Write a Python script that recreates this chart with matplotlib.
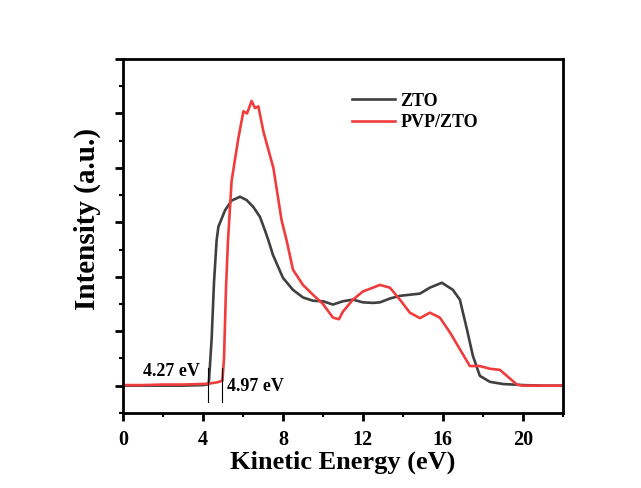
import numpy as np
import matplotlib.pyplot as plt
from matplotlib.ticker import MultipleLocator

plt.rcParams['font.family'] = ['Liberation Serif', 'DejaVu Serif']
plt.rcParams['font.weight'] = 'bold'

# ZTO curve
zto_e = [0, 1, 2, 3, 4, 4.2, 4.27, 4.3, 4.43, 4.55, 4.68, 4.77, 5.1, 5.43, 5.85,
         6.18, 6.52, 6.85, 7.1, 7.27, 7.5, 8, 8.5, 9, 9.5, 10, 10.5, 11, 11.5,
         12, 12.5, 12.85, 13.35, 13.85, 14.35, 14.85, 15.35, 15.95, 16.5, 16.85,
         17.2, 17.5, 17.85, 18.35, 19, 19.5, 20, 21, 22]
zto_i = [0, 0, 0, 0, 0.01, 0.02, 0.03, 0.1, 0.85, 1.9, 2.67, 2.92, 3.22, 3.4, 3.47,
         3.41, 3.28, 3.1, 2.85, 2.67, 2.4, 1.98, 1.76, 1.62, 1.56, 1.55, 1.49, 1.55, 1.58,
         1.53, 1.52, 1.53, 1.6, 1.65, 1.67, 1.69, 1.8, 1.89, 1.76, 1.58,
         1.04, 0.55, 0.18, 0.07, 0.03, 0.02, 0.01, 0.0, 0.0]

# PVP/ZTO curve
pvp_e = [0, 1, 2, 3, 4, 4.35, 4.7, 4.97, 5.05, 5.15, 5.25, 5.43, 5.77, 6.02, 6.2,
         6.43, 6.6, 6.77, 7.02, 7.52, 7.93, 8.18, 8.5, 9, 9.5, 10, 10.5, 10.8, 11,
         11.5, 12, 12.5, 12.85, 13.35, 13.85, 14.35, 14.85, 15.35, 15.85, 16.35,
         16.85, 17.35, 17.85, 18.35, 18.85, 19.2, 19.7, 20, 21, 22]
pvp_i = [0.01, 0.01, 0.02, 0.02, 0.03, 0.04, 0.06, 0.09, 0.5, 1.8, 2.67, 3.76, 4.55, 5.04, 5.0,
         5.23, 5.1, 5.13, 4.67, 4.0, 3.04, 2.67, 2.13, 1.85, 1.67, 1.5, 1.25, 1.22, 1.36,
         1.58, 1.73, 1.8, 1.85, 1.8, 1.58, 1.34, 1.24, 1.34, 1.25, 0.98,
         0.67, 0.36, 0.36, 0.31, 0.29, 0.18, 0.02, 0.0, 0.0, 0.0]

onsets = [4.27, 4.97]
onset_labels = ['4.27 eV', '4.97 eV']

fig = plt.figure(figsize=(6.41, 4.88), dpi=100)
ax = fig.add_axes([0.192, 0.154, 0.686, 0.725])

ax.plot(zto_e, zto_i, color='#404040', lw=1.9, label='ZTO')
ax.plot(pvp_e, pvp_i, color='#f03c3c', lw=1.9, label='PVP/ZTO')

# onset markers
for e in onsets:
    ax.plot([e, e], [-0.3, 0.33], color='black', lw=0.8)
ax.text(3.85, 0.17, onset_labels[0], ha='right', va='baseline', fontsize=13, fontweight='bold')
ax.text(5.2, -0.02, onset_labels[1], ha='left', va='center', fontsize=13, fontweight='bold')

ax.set_xlim(0, 22)
ax.set_ylim(-0.5, 6)
ax.xaxis.set_major_locator(MultipleLocator(4))
ax.xaxis.set_minor_locator(MultipleLocator(2))
ax.yaxis.set_major_locator(MultipleLocator(1))
ax.yaxis.set_minor_locator(MultipleLocator(0.5))
ax.set_yticklabels([])
ax.tick_params(axis='both', which='major', direction='out', length=6, width=2)
ax.tick_params(axis='both', which='minor', direction='out', length=3, width=1.5)
ax.tick_params(axis='x', labelsize=14.5, pad=6)
for s in ax.spines.values():
    s.set_linewidth(2)

ax.set_xlabel('Kinetic Energy (eV)', fontsize=19, fontweight='bold', labelpad=1)
ax.set_ylabel('Intensity (a.u.)', fontsize=21, fontweight='bold')
ax.yaxis.set_label_coords(-0.05, 0.548)

ax.legend(loc='upper left', bbox_to_anchor=(0.52, 0.905), frameon=False,
          handlelength=2.4, handletextpad=0.3, labelspacing=0.25,
          borderpad=0, borderaxespad=0,
          prop={'weight': 'bold', 'size': 13})

plt.savefig('out.png', dpi=100)
